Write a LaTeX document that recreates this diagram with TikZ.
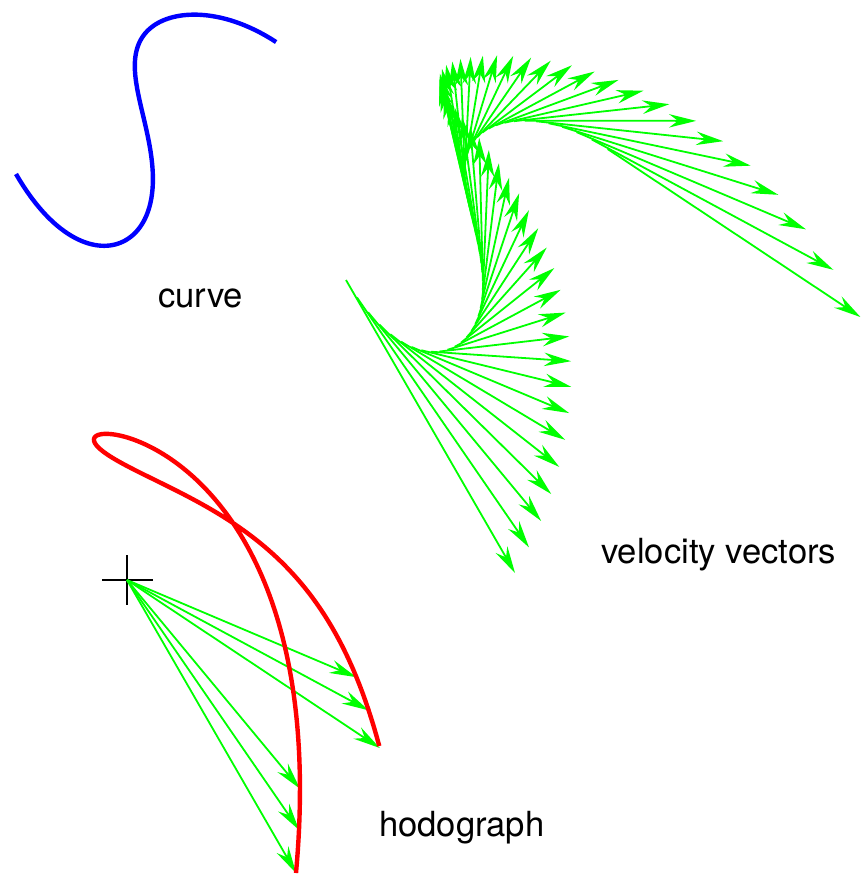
\documentclass[tikz,border=0pt]{standalone}
\usepackage{fontspec}
\setmainfont{TeX Gyre Heros}
\usetikzlibrary{arrows.meta}

\begin{document}
\begin{tikzpicture}[x=0.02cm,y=-0.02cm,
  declare function={
    hx(\x)=169+\x*(200+\x*(-2516.8+\x*(-750.8+\x*(12564.8+\x*(-13836.6+\x*4423.2)))));
    hy(\x)=293+\x*(-2200+\x*(2094.5+\x*(5420.7+\x*(-12551.1+\x*(8712.1-\x*1601.2)))));
    cx(\x)=\x*(169+\x*(100+\x*(-838.93+\x*(-187.7+\x*(2512.96+\x*(-2306.1+\x*631.89))))))/0.31;
    cy(\x)=\x*(293+\x*(-1100+\x*(698.17+\x*(1355.18+\x*(-2510.22+\x*(1452.02-\x*228.74))))))/0.31;
  },
  velvec/.style={green,line width=0.036cm,-{Stealth[length=0.54cm,width=0.27cm,inset=0.18cm]}},
  thickcurve/.style={line width=0.088cm},
  label/.style={anchor=base,font=\fontsize{19.7}{24}\selectfont}]
\useasboundingbox (0,0) rectangle (861,875);

\draw[blue,thickcurve] plot[domain=0:1,samples=150,variable=\s] ({16+cx(\s)},{174+cy(\s)});
\node[label] (curvelabel) at (200.5,307) {curve};

\foreach \k in {0,...,50}
{
  \pgfmathsetmacro\tk{\k/50}
  \draw[velvec] ({346+cx(\tk)},{280+cy(\tk)}) -- ++({hx(\tk)},{hy(\tk)});
}
\node[label] (vellabel) at (718.7,563.3) {velocity vectors};

\coordinate (origin) at (127,580);
\draw[line width=0.03cm] (origin) ++(-25,0) -- ++(51,0) (origin) ++(0,-25) -- ++(0,50);
\foreach \k in {0,1,2,48,49,50}
{
  \pgfmathsetmacro\tk{\k/50}
  \draw[velvec] (origin) -- ++({hx(\tk)},{hy(\tk)});
}
\draw[red,thickcurve] plot[domain=0:1,samples=200,variable=\s] ({127+hx(\s)},{580+hy(\s)});
\node[label] (hodolabel) at (461.7,836.7) {hodograph};
\end{tikzpicture}
\end{document}
